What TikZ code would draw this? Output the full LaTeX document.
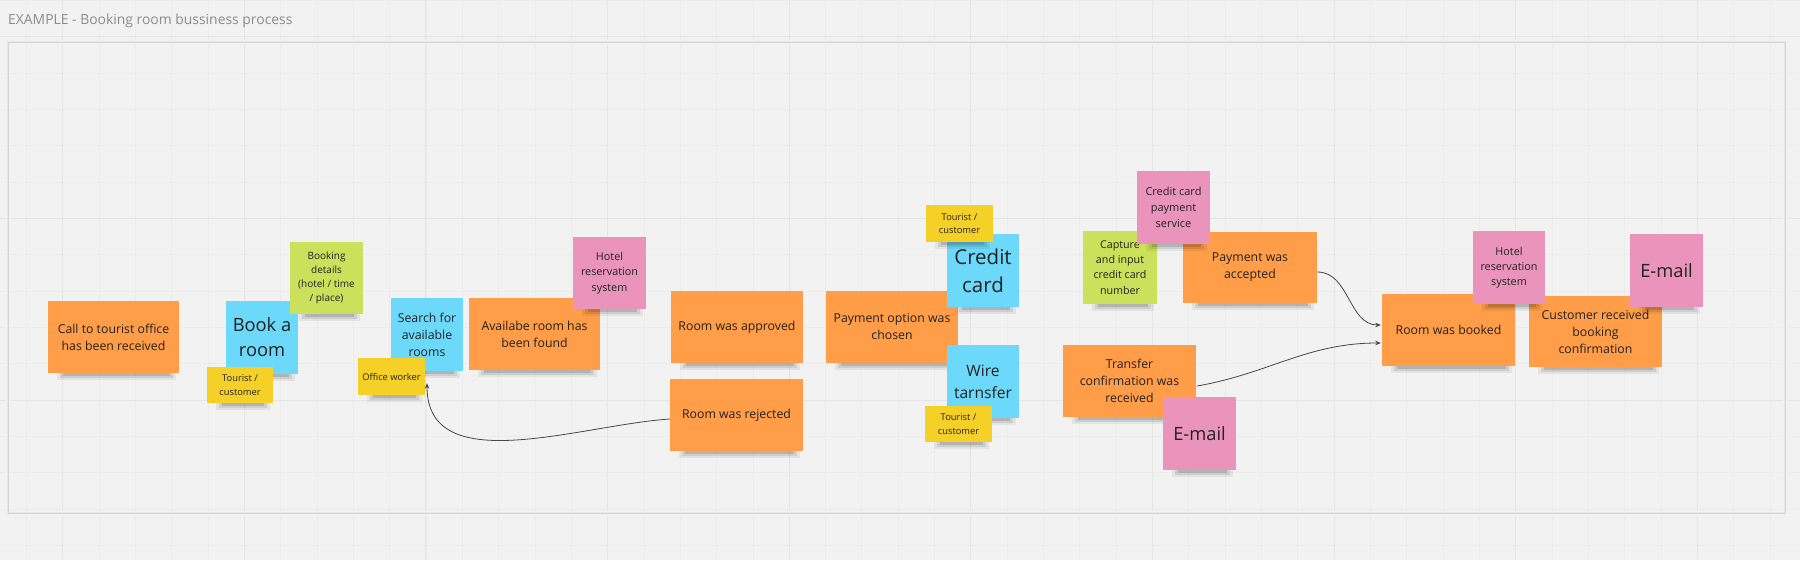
\documentclass[tikz,border=0pt]{standalone}
\usepackage{fontspec}
\setmainfont{Open Sans}
\usetikzlibrary{arrows.meta}
\definecolor{bg}{HTML}{F2F2F2}
\definecolor{gridminor}{HTML}{ECECEC}
\definecolor{gridmajor}{HTML}{E5E5E5}
\definecolor{orangeN}{HTML}{FF9D48}
\definecolor{blueN}{HTML}{6CD8FA}
\definecolor{yellowN}{HTML}{F5D128}
\definecolor{greenN}{HTML}{CBE15C}
\definecolor{pinkN}{HTML}{EA94BB}
\definecolor{ink}{HTML}{222222}
\definecolor{titlegray}{HTML}{8C8C8C}
\newcommand{\fs}[2]{\fontsize{#1}{#2}\selectfont}
\tikzset{
  sticky/.style={inner sep=0pt, align=center, text=ink},
  conn/.style={draw=black!72, line width=0.8pt, -{Stealth[length=5.5pt,width=4.5pt]}},
  gridline/.style={draw=gridminor, line width=0.8pt},
  gridmaj/.style={draw=gridmajor, line width=1pt}
}
% #1 name, #2 x1, #3 y1, #4 x2, #5 y2, #6 colour, #7 font, #8 text
\newcommand{\stk}[8]{%
  \fill[black,opacity=0.06] (#2+9,#5-6) rectangle (#4-3,#5+6.5);
  \fill[black,opacity=0.09] (#2+12,#5-4) rectangle (#4-6,#5+4.5);
  \fill[black,opacity=0.13] (#2+15,#5-2) rectangle (#4-9,#5+2.8);
  \pgfmathsetmacro\stkw{#4-#2}\pgfmathsetmacro\stkh{#5-#3}%
  \node[sticky, fill=#6, font=#7, minimum width=\stkw pt, minimum height=\stkh pt] (#1) at ({(#2+#4)/2},{(#3+#5)/2}) {#8};
}
\begin{document}
\begin{tikzpicture}[x=1pt,y=-1pt]
\useasboundingbox (0,0) rectangle (1800,560);
\fill[bg] (0,0) rectangle (1800,560);
% grid
\foreach \i in {0,...,49} {\pgfmathsetmacro\gx{26.3+36.33*\i}\draw[gridline] (\gx,0) -- (\gx,560);}
\foreach \i in {0,...,15} {\pgfmathsetmacro\gy{0.37+36.33*\i}\draw[gridline] (0,\gy) -- (1800,\gy);}
\foreach \i in {0,...,9} {\pgfmathsetmacro\gx{62.6+181.65*\i}\draw[gridmaj] (\gx,0) -- (\gx,560);}
\foreach \i in {0,...,2} {\pgfmathsetmacro\gy{36.7+181.65*\i}\draw[gridmaj] (0,\gy) -- (1800,\gy);}
% frame
\draw[black!5, line width=5pt] (8,42) rectangle (1785,513);
\draw[black!9, line width=2.5pt] (8,42) rectangle (1785,513);
\draw[black!17, line width=1pt] (8,42) rectangle (1785,513);
% title
\node[anchor=base west, inner sep=0pt, text=titlegray, font=\fs{13.9}{16}] (title) at (8,24) {EXAMPLE - Booking room bussiness process};
% notes
\stk{call}{48}{301}{179}{373}{orangeN}{\fs{12.3}{17}}{Call to tourist office\\has been received}
\stk{book}{226}{301}{298}{374}{blueN}{\fs{18.3}{25}}{Book a\\room}
\stk{details}{290}{242}{363}{314}{greenN}{\fs{10}{14}}{Booking\\details\\(hotel / time\\/ place)}
\stk{tour1}{207}{367}{273}{403}{yellowN}{\fs{9.3}{13.5}}{Tourist /\\customer}
\stk{search}{391}{298}{463}{371}{blueN}{\fs{12.3}{17}}{Search for\\available\\rooms}
\stk{office}{358}{358}{425}{395}{yellowN}{\fs{9.3}{13.5}}{Office worker}
\stk{found}{469}{298}{600}{370}{orangeN}{\fs{12.3}{17}}{Availabe room has\\been found}
\stk{hotel1}{573}{237}{646}{309}{pinkN}{\fs{10.8}{15.3}}{Hotel\\reservation\\system}
\stk{approved}{671}{291}{803}{363}{orangeN}{\fs{12.3}{17}}{Room was approved}
\stk{rej}{670}{379}{803}{451}{orangeN}{\fs{12.3}{17}}{Room was rejected}
\stk{chosen}{826}{291}{958}{363}{orangeN}{\fs{12.3}{17}}{Payment option was\\chosen}
\stk{credit}{947}{234}{1019}{307}{blueN}{\fs{20.5}{28}}{Credit\\card}
\stk{tour2}{926}{205}{993}{242}{yellowN}{\fs{9.3}{13.5}}{Tourist /\\customer}
\stk{wire}{947}{345}{1019}{418}{blueN}{\fs{15.6}{22}}{Wire\\tarnsfer}
\stk{tour3}{925}{406}{992}{442}{yellowN}{\fs{9.3}{13.5}}{Tourist /\\customer}
\stk{pay}{1183}{232}{1317}{303}{orangeN}{\fs{12.3}{17}}{Payment was\\accepted}
\stk{capture}{1083}{231}{1157}{304}{greenN}{\fs{10.7}{15.3}}{Capture\\and input\\credit card\\number}
\stk{ccservice}{1137}{171}{1210}{244}{pinkN}{\fs{11}{15.7}}{Credit card\\payment\\service}
\stk{transfer}{1063}{345}{1196}{417}{orangeN}{\fs{12.3}{17}}{Transfer\\confirmation was\\received}
\stk{email1}{1163}{397}{1236}{470}{pinkN}{\fs{18.3}{25}}{E-mail}
\stk{booked}{1382}{294}{1515}{366}{orangeN}{\fs{12.3}{17}}{Room was booked}
\stk{confirm}{1529}{296}{1662}{367}{orangeN}{\fs{12.3}{17}}{Customer received\\booking\\confirmation}
\stk{hotel2}{1473}{231}{1545}{304}{pinkN}{\fs{10.8}{15.3}}{Hotel\\reservation\\system}
\stk{email2}{1630}{234}{1703}{307}{pinkN}{\fs{18.3}{25}}{E-mail}
% connectors
\draw[conn] ([yshift=-4pt]rej.west) .. controls (580,425) and (427,480) .. ([yshift=-12pt]search.south);
\draw[conn] ([yshift=-4.5pt]pay.east) to[out=0,in=180] ([yshift=5pt,xshift=-1pt]booked.west);
\draw[conn] ([yshift=-5pt,xshift=1pt]transfer.east) to[out=10,in=180] ([yshift=-13pt,xshift=-1pt]booked.west);
\end{tikzpicture}
\end{document}
